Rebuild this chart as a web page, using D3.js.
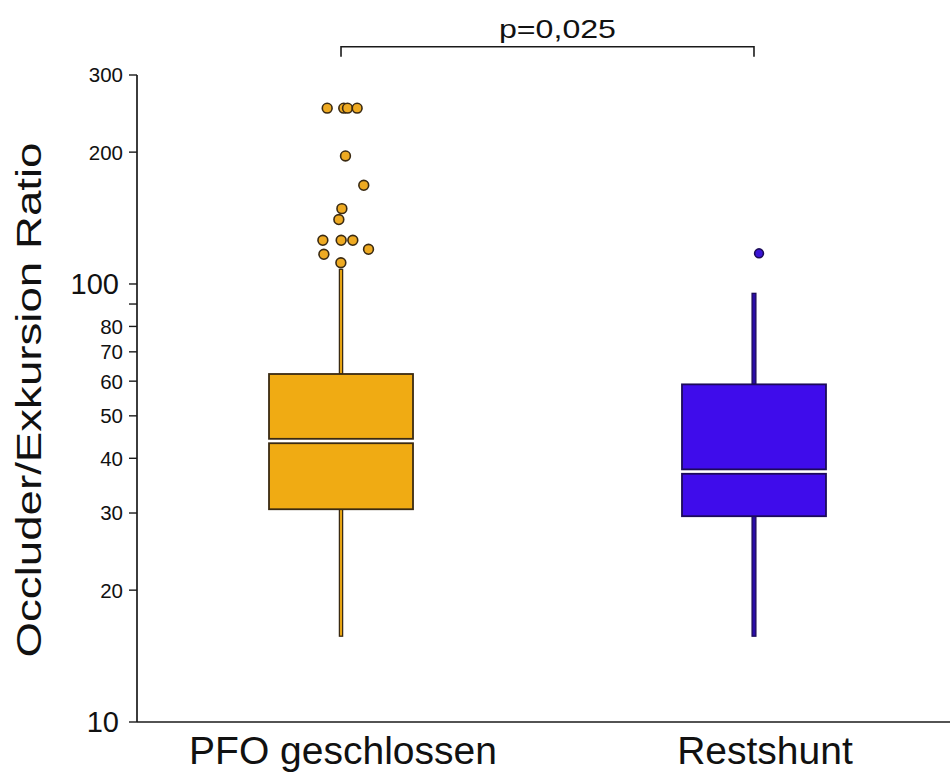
<!DOCTYPE html>
<html>
<head>
<meta charset="utf-8">
<script src="https://cdn.jsdelivr.net/npm/d3@7"></script>
<style>
  body { margin: 0; background: #fff; }
  svg text { font-family: "Liberation Sans", Arial, sans-serif; fill: #111; }
</style>
</head>
<body>
<div id="chart"></div>
<script>
// data
const groups = ["PFO geschlossen", "Restshunt"];
const lowerWhisker = [15.7, 15.7];
const q1 = [30.6, 29.5];
const medians = [43.8, 37.3];
const q3 = [62.3, 59.0];
const upperWhisker = [108, 95.2];

// outliers: group index, value, horizontal jitter (fraction of box width)
const outlierGroup = [0, 0, 0, 0, 0, 0, 0, 0, 0, 0, 0, 0, 0, 0, 1];
const outlierValue = [252, 252, 252, 252, 196, 168, 148.6, 140.3, 125.8, 125.8, 125.8, 120, 116.9, 111.8, 117.5];
const outlierJitter = [-0.096, 0.019, 0.045, 0.112, 0.031, 0.158, 0.006, -0.015, -0.126, 0.001, 0.082, 0.191, -0.119, -0.001, 0.035];

const yTicks = [10, 20, 30, 40, 50, 60, 70, 80, 90, 100, 200, 300];
const bigTickLabels = [10, 100];
const unlabeledTicks = [90];

const pText = "p=0,025";
const yTitle = "Occluder/Exkursion Ratio";

const fills = ["#F0AB13", "#3F0CEB"];
const edges = ["#3a2a12", "#1c0b5a"];
const whiskerW = [3.2, 3.8];

const width = 950, height = 774;
const plotLeft = 137, plotRight = 950, plotTop = 75, plotBottom = 722;

const svg = d3.select("#chart").append("svg")
    .attr("width", width)
    .attr("height", height);

const y = d3.scaleLog().domain([10, 300]).range([plotBottom, plotTop]);
const x = d3.scalePoint().domain(groups).range([plotLeft, 958]).padding(0.494);
const boxW = 144;

// whiskers first so the boxes sit on top
groups.forEach(function (g, i) {
    let cx = x(g);
    [[upperWhisker[i], q3[i]], [q1[i], lowerWhisker[i]]].forEach(function (w) {
        svg.append("rect")
            .attr("x", cx - whiskerW[i] / 2)
            .attr("width", whiskerW[i])
            .attr("y", y(w[0]))
            .attr("height", y(w[1]) - y(w[0]))
            .attr("fill", i == 0 ? fills[i] : "#2a0ca8")
            .attr("stroke", edges[i])
            .attr("stroke-width", 1.3);
    });
    // box split in two halves around the median
    svg.append("rect")
        .attr("x", cx - boxW / 2)
        .attr("width", boxW)
        .attr("y", y(q3[i]))
        .attr("height", y(medians[i]) - y(q3[i]) - 2.2)
        .attr("fill", fills[i])
        .attr("stroke", edges[i])
        .attr("stroke-width", 1.8);
    svg.append("rect")
        .attr("x", cx - boxW / 2)
        .attr("width", boxW)
        .attr("y", y(medians[i]) + 2.2)
        .attr("height", y(q1[i]) - y(medians[i]) - 2.2)
        .attr("fill", fills[i])
        .attr("stroke", edges[i])
        .attr("stroke-width", 1.8);
});

// outlier dots
svg.selectAll("circle.out")
    .data(outlierValue.map(function (v, k) {
        return { g: outlierGroup[k], v: v, j: outlierJitter[k] };
    }))
    .enter()
    .append("circle")
    .attr("class", "out")
    .attr("cx", d => x(groups[d.g]) + d.j * boxW)
    .attr("cy", d => y(d.v))
    .attr("r", d => d.g == 0 ? 4.9 : 4.4)
    .attr("fill", d => d.g == 0 ? "#EEAA22" : "#3a14d6")
    .attr("stroke", d => edges[d.g])
    .attr("stroke-width", 1.6);

// y axis
svg.append("line")
    .attr("x1", plotLeft).attr("x2", plotLeft)
    .attr("y1", plotTop).attr("y2", plotBottom)
    .attr("stroke", "#1a1a1a").attr("stroke-width", 1.7);
// x axis
svg.append("line")
    .attr("x1", plotLeft).attr("x2", plotRight)
    .attr("y1", plotBottom).attr("y2", plotBottom)
    .attr("stroke", "#1a1a1a").attr("stroke-width", 1.7);

svg.selectAll("line.tick")
    .data(yTicks)
    .enter()
    .append("line")
    .attr("x1", plotLeft - 8).attr("x2", plotLeft)
    .attr("y1", d => y(d)).attr("y2", d => y(d))
    .attr("stroke", "#1a1a1a").attr("stroke-width", 1.4);

svg.selectAll("text.tick")
    .data(yTicks.filter(d => !unlabeledTicks.includes(d)))
    .enter()
    .append("text")
    .attr("x", d => bigTickLabels.includes(d) ? 119 : 123)
    .attr("y", d => y(d))
    .attr("dy", "0.36em")
    .attr("text-anchor", "end")
    .style("font-size", d => bigTickLabels.includes(d) ? "29px" : "20.5px")
    .text(d => d);

// category labels
svg.selectAll("text.cat")
    .data(groups)
    .enter()
    .append("text")
    .attr("x", (d, i) => x(d) + (i == 1 ? 11 : 2))
    .attr("y", 764)
    .attr("text-anchor", "middle")
    .style("font-size", "39px")
    .text(d => d);

// y title
svg.append("text")
    .attr("transform", "translate(41,400) rotate(-90)")
    .attr("text-anchor", "middle")
    .attr("textLength", 515)
    .attr("lengthAdjust", "spacingAndGlyphs")
    .style("font-size", "35px")
    .text(yTitle);

// significance bracket
let bx1 = x(groups[0]), bx2 = x(groups[1]), by = 46.7;
svg.append("path")
    .attr("d", "M" + bx1 + "," + (by + 10) + "V" + by + "H" + bx2 + "V" + (by + 10))
    .attr("fill", "none")
    .attr("stroke", "#1a1a1a")
    .attr("stroke-width", 1.6);
svg.append("text")
    .attr("x", (bx1 + bx2) / 2 + 10)
    .attr("y", 38)
    .attr("text-anchor", "middle")
    .attr("textLength", 117)
    .attr("lengthAdjust", "spacingAndGlyphs")
    .style("font-size", "26px")
    .text(pText);
</script>
</body>
</html>
